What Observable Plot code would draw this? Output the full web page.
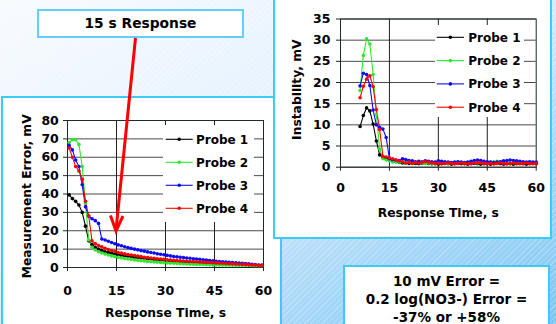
<!DOCTYPE html>
<html><head><meta charset="utf-8">
<script src="https://cdn.jsdelivr.net/npm/d3@7"></script>
<script src="https://cdn.jsdelivr.net/npm/@observablehq/plot@0.6"></script>
<style>
html,body{margin:0;padding:0;background:#fff;}
#stage{position:relative;width:556px;height:324px;overflow:hidden;font-family:"DejaVu Sans",sans-serif;font-weight:bold;color:#000;}
.bg{position:absolute;left:0;top:0;width:556px;height:324px;
 background: repeating-linear-gradient(135deg, rgba(255,255,255,0.25) 0px, rgba(255,255,255,0.25) 1px, rgba(255,255,255,0) 1px, rgba(255,255,255,0) 4px),
 linear-gradient(to bottom right, #f7fbff 0%, #e6f2fd 40%, #b2dcf9 68%, #7cc6f3 100%);}
.panel{position:absolute;box-sizing:border-box;background:#fff;border:2px solid #3ccaf8;}
.host{position:absolute;}
.box{position:absolute;box-sizing:border-box;background:#fff;border:2px solid #66cdfd;text-align:center;}
#title{left:37px;top:9px;width:207px;height:29px;font-size:13.8px;line-height:25px;}
#note{left:343px;top:265px;width:207px;height:80px;font-size:13.5px;line-height:18px;padding-top:5px;border-color:#3ccaf8;}
#arrow{position:absolute;left:0;top:0;}
</style>
</head><body>
<div id="stage">
  <div class="bg"></div>
  <div class="panel" style="left:1px;top:96px;width:281px;height:240px"></div>
  <div class="host" id="leftHost" style="left:0px;top:97px"></div>
  <div class="host" id="leftLegend" style="left:163px;top:125px"></div>
  <div class="panel" style="left:273px;top:-3px;width:279px;height:242px"></div>
  <div class="host" id="rightHost" style="left:275px;top:0px"></div>
  <div class="host" id="rightLegend" style="left:435px;top:25px"></div>
  <div class="box" id="title">15 s Response</div>
  <div class="box" id="note">10 mV Error =<br>0.2 log(NO3-) Error =<br>-37% or +58%</div>
  <svg id="arrow" width="556" height="324"></svg>
</div>
<script>
// ---------- data ----------
const probes = ["Probe 1", "Probe 2", "Probe 3", "Probe 4"];
const probeColors = ["#000000", "#2ee82e", "#0a0aff", "#ff0000"];
const xTicks = [0, 15, 30, 45, 60];
const leftYTicks = [0, 10, 20, 30, 40, 50, 60, 70, 80];
const rightYTicks = [0, 5, 10, 15, 20, 25, 30, 35];
const xTitle = "Response Time, s";
const leftYTitle = "Measurement Error, mV";
const rightYTitle = "Instability, mV";

// left chart: measurement error (mV) vs response time (s)
const timeLeft = [0.5,1.5,2.5,3.5,4.5,5.5,6.5,7.5,8.5,9.5,10.5,11.5,12.5,13.5,14.5,15.5,16.5,17.5,18.5,19.5,
  20.5,21.5,22.5,23.5,24.5,25.5,26.5,27.5,28.5,29.5,30.5,31.5,32.5,33.5,34.5,35.5,36.5,37.5,38.5,39.5,
  40.5,41.5,42.5,43.5,44.5,45.5,46.5,47.5,48.5,49.5,50.5,51.5,52.5,53.5,54.5,55.5,56.5,57.5,58.5,59.5];
const errProbe1 = [39.5,37.5,36,34,30,22.5,14.5,12.5,11,10,9.2,8.6,8.1,7.7,7.3,7.0,6.7,6.4,6.1,5.9,
  5.6,5.4,5.2,5.0,4.8,4.6,4.4,4.2,4.0,3.9,3.7,3.6,3.4,3.3,3.2,3.1,3.0,2.9,2.8,2.7,
  2.6,2.5,2.4,2.3,2.2,2.1,2.0,1.9,1.9,1.8,1.7,1.6,1.5,1.5,1.4,1.3,1.2,1.2,1.1,1.0];
const errProbe2 = [68,69.5,69.5,67,55,35,15,11,9.5,8.6,7.9,7.3,6.8,6.3,5.9,5.5,5.2,4.9,4.6,4.4,
  4.1,3.9,3.7,3.5,3.3,3.2,3.0,2.9,2.7,2.6,2.5,2.4,2.3,2.2,2.1,2.0,1.9,1.8,1.8,1.7,
  1.6,1.6,1.5,1.5,1.4,1.4,1.3,1.3,1.2,1.2,1.2,1.1,1.1,1.1,1.2,1.3,1.1,1.0,1.0,0.9];
const errProbe3 = [66.5,64,58.5,55,45,33,28,26.5,25.5,24,15.5,15,14.3,13.6,12.9,12.3,11.8,11.3,10.8,10.4,
  10.0,9.6,9.2,8.9,8.5,8.2,7.9,7.5,7.2,6.9,6.6,6.3,6.0,5.8,5.6,5.4,5.2,5.0,4.8,4.6,
  4.4,4.2,4.0,3.8,3.6,3.4,3.3,3.1,3.0,2.8,2.7,2.5,2.4,2.3,2.1,2.0,1.8,1.6,1.4,1.3];
const errProbe4 = [65,60,55,52.5,48,36,28,14.5,13,12,11.2,10.5,9.8,9.2,8.7,8.2,7.8,7.4,7.1,6.8,
  6.5,6.2,5.9,5.6,5.4,5.2,5.0,4.8,4.6,4.4,4.2,4.0,3.9,3.8,3.6,3.5,3.4,3.3,3.2,3.1,
  3.0,2.9,2.8,2.7,2.6,2.5,2.4,2.3,2.2,2.1,2.0,1.9,1.8,1.7,1.6,1.5,1.4,1.3,1.2,1.1];

// right chart: instability (mV) vs response time (s)
const timeRight = [6,7,8,9,10,11,12,13,14,15,16,17,18,19,20,21,22,23,24,25,26,27,28,29,30,
  31,32,33,34,35,36,37,38,39,40,41,42,43,44,45,46,47,48,49,50,51,52,53,54,55,56,57,58,59,60];
const instProbe1 = [9.6,12.2,14.0,13.3,10.2,6.2,2.9,2.4,2.1,1.8,1.5,1.3,1.1,1.0,1.0,0.9,1.0,0.9,0.8,0.9,1.0,0.9,0.8,0.8,0.7,
  0.8,0.9,0.8,0.7,0.8,0.9,0.8,0.8,0.7,0.8,0.9,0.8,0.7,0.8,0.8,0.7,0.8,0.9,0.8,0.7,0.8,0.8,0.7,0.8,0.9,0.8,0.7,0.8,0.9,0.8];
const instProbe2 = [18.1,26.4,30.3,29.1,21.9,12.4,4.3,2.0,1.7,1.5,1.2,1.3,1.2,1.3,1.1,1.2,1.0,1.1,1.2,1.0,0.9,1.0,0.8,0.9,1.0,
  1.1,1.0,0.9,1.0,1.1,1.2,1.1,1.0,1.1,1.2,1.1,1.0,1.1,1.2,1.1,1.2,1.3,1.4,1.3,1.2,1.1,1.0,1.1,1.2,1.1,1.0,1.1,1.2,1.1,1.0];
const instProbe3 = [19.2,22.2,21.9,19.3,13.5,10.0,9.4,9.0,7.0,2.0,1.8,1.7,1.6,2.0,1.8,1.6,1.5,1.3,1.4,1.3,1.5,1.4,1.3,1.2,1.5,
  1.4,1.3,1.2,1.1,1.2,1.3,1.2,1.1,1.2,1.4,1.6,1.7,1.6,1.4,1.3,1.2,1.1,1.2,1.3,1.5,1.6,1.7,1.6,1.5,1.4,1.3,1.2,1.3,1.2,1.2];
const instProbe4 = [16.4,19.1,20.8,21.6,19.0,13.6,8.9,2.6,2.4,2.2,2.0,1.7,1.5,1.3,1.0,1.2,0.9,1.1,1.0,1.2,1.3,1.2,1.0,0.9,1.0,
  0.8,0.9,1.0,0.9,0.8,0.9,1.0,0.9,0.8,0.9,1.0,1.1,1.0,0.9,0.8,0.9,0.8,0.9,1.0,0.9,0.8,0.9,1.0,0.9,0.8,0.9,1.0,0.9,0.8,0.9];

// ---------- build tables ----------
function toRows(times, seriesList) {
  const rows = [];
  seriesList.forEach((vals, i) => vals.forEach((v, j) => rows.push({t: times[j], v, probe: probes[i]})));
  return rows;
}
const leftRows = toRows(timeLeft, [errProbe1, errProbe2, errProbe3, errProbe4]);
const rightRows = toRows(timeRight, [instProbe1, instProbe2, instProbe3, instProbe4]);

function makeChart(o) {
  return Plot.plot({
    width: o.width, height: o.height,
    marginLeft: o.mL, marginRight: o.mR, marginTop: o.mT, marginBottom: o.mB,
    style: {background: "transparent", fontFamily: "DejaVu Sans, sans-serif", fontWeight: "bold", fontSize: "12.5px", color: "#000", overflow: "visible"},
    x: {domain: [0, 60]},
    y: {domain: o.yDomain},
    color: {type: "ordinal", domain: probes, range: probeColors},
    marks: [
      Plot.gridY(o.yTicks, {stroke: "#4a4a4a", strokeOpacity: 1, strokeWidth: 1}),
      Plot.gridX([15, 30, 45], {stroke: "#222", strokeOpacity: 1, strokeWidth: 1}),
      Plot.frame({stroke: "#1d2a2a", strokeWidth: 1}),
      Plot.axisX(xTicks, {tickSize: 4, tickPadding: o.xPad, label: null, fontSize: 12.5, fontWeight: "bold", stroke: "#1d2a2a"}),
      Plot.axisY(o.yTicks, {tickSize: 4, tickPadding: o.yPad, label: null, fontSize: 12.5, fontWeight: "bold", stroke: "#1d2a2a"}),
      Plot.line(o.data, {x: "t", y: "v", z: "probe", stroke: "probe", strokeWidth: 1.1}),
      Plot.dot(o.data, {x: "t", y: "v", fill: "probe", r: 1.8}),
      Plot.text([xTitle], {frameAnchor: "bottom", dy: o.xTitleDy, text: d => d, fontSize: 12.3, fontWeight: "bold", lineAnchor: "middle", textAnchor: "middle"}),
      Plot.text([o.yTitle], {frameAnchor: "left", rotate: -90, dx: o.yTitleDx, dy: o.yTitleDy, text: d => d, fontSize: 12.3, fontWeight: "bold", lineAnchor: "middle", textAnchor: "middle"})
    ]
  });
}

const left = makeChart({data: leftRows, width: 281, height: 227, mL: 67, mR: 18, mT: 23, mB: 57,
  yDomain: [0, 80], yTicks: leftYTicks, xPad: 14.4, yPad: 4.7, xTitleDy: 46, yTitleDx: -40.5, yTitleDy: 2.3, yTitle: leftYTitle});
document.getElementById("leftHost").appendChild(left);

const right = makeChart({data: rightRows, width: 270, height: 236, mL: 65, mR: 9.3, mT: 18.5, mB: 69.3,
  yDomain: [0, 35], yTicks: rightYTicks, xPad: 12.4, yPad: 6, xTitleDy: 45.8, yTitleDx: -43.2, yTitleDy: -3.4, yTitle: rightYTitle});
document.getElementById("rightHost").appendChild(right);

// ---------- legends ----------
function legend(hostId, w, h, firstRow, gap, lineX0, lineX1, textX) {
  const svg = d3.select("#" + hostId).append("svg")
    .attr("width", w).attr("height", h).style("display", "block").style("background", "#fff");
  probes.forEach((p, i) => {
    const y = firstRow + i * gap;
    svg.append("line").attr("x1", lineX0).attr("x2", lineX1).attr("y1", y).attr("y2", y)
      .attr("stroke", probeColors[i]).attr("stroke-width", 1.1);
    svg.append("circle").attr("cx", (lineX0 + lineX1) / 2).attr("cy", y).attr("r", 1.8).attr("fill", probeColors[i]);
    svg.append("text").attr("x", textX).attr("y", y).attr("dy", "0.36em")
      .attr("font-family", "DejaVu Sans, sans-serif").attr("font-weight", "bold").attr("font-size", 12)
      .text(p);
  });
}
legend("leftLegend", 91, 97, 14.3, 23, 2.7, 29.7, 33);
legend("rightLegend", 89, 92, 12.3, 23.3, 1.7, 29, 33.3);

// ---------- arrow ----------
const arrow = d3.select("#arrow");
arrow.append("line").attr("x1", 135.5).attr("y1", 38).attr("x2", 116).attr("y2", 230)
  .attr("stroke", "#ff0000").attr("stroke-width", 3);
arrow.append("polyline").attr("points", "110.5,215.5 116,231 123,216")
  .attr("fill", "none").attr("stroke", "#ff0000").attr("stroke-width", 3).attr("stroke-linejoin", "miter");
</script>
</body></html>
